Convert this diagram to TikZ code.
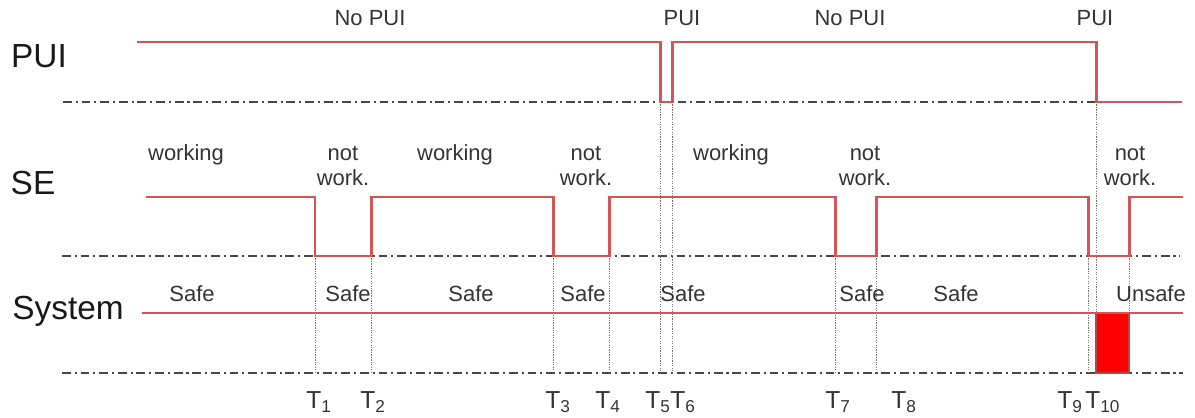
\documentclass[tikz,border=0pt]{standalone}
\usepackage{fontspec}
\setmainfont{Liberation Sans}
\definecolor{sigred}{RGB}{214,84,84}
\definecolor{txtgray}{RGB}{52,52,52}

\begin{document}
\begin{tikzpicture}[
  x=0.02cm, y=-0.02cm,
  sig/.style={draw=sigred, line width=1.7pt, line join=miter},
  base/.style={draw=black!72, line width=1.1pt, dash pattern=on 5pt off 2.2pt on 1.2pt off 2.2pt},
  tline/.style={draw=black!55, line width=0.5pt, dash pattern=on 0.7pt off 0.7pt},
  row/.style={text=black!90, font=\fontsize{19}{22}\selectfont, inner sep=0pt},
  lbl/.style={text=txtgray, font=\fontsize{12.5}{14.2}\selectfont, inner sep=0pt, align=center},
  tlbl/.style={text=txtgray, font=\fontsize{14}{16}\selectfont, inner sep=0pt, anchor=north west}
]
  \useasboundingbox (0,0) rectangle (1195,418);

  % time instants
  \foreach \n/\x in {1/315,2/371,3/553,4/609,5/660,6/672,7/835,8/876,9/1088,10/1096}
    \coordinate (T\n) at (\x,0);
  \coordinate (Tend) at (1129,0);

  % signal levels
  \coordinate (pui)   at (0,42);
  \coordinate (puilo) at (0,102);
  \coordinate (se)    at (0,197);
  \coordinate (selo)  at (0,256);
  \coordinate (sys)   at (0,313);
  \coordinate (syslo) at (0,373);

  % row names
  \node[row] (lpui) at (39,56)  {PUI};
  \node[row] (lse)  at (33,183) {SE};
  \node[row] (lsys) at (68,311) {System};

  % zero lines
  \draw[base] (63,102) -- (T10 |- puilo);
  \draw[base] (62,256) -- (1180,256);
  \draw[base] (62,373) -- (1183,373);

  % instant markers
  \foreach \t in {T1,T2,T3,T4,T7,T8,T9,Tend}
    \draw[tline] (\t |- selo) -- (\t |- syslo);
  \foreach \t in {T5,T6,T10}
    \draw[tline] (\t |- puilo) -- (\t |- syslo);

  % unsafe interval
  \draw[draw=sigred!85!black, fill=red, line width=1.2pt] (T10 |- sys) rectangle (Tend |- syslo);

  % waveforms
  \draw[sig] (137,42) -- (T5 |- pui) -- (T5 |- puilo) -- (T6 |- puilo) -- (T6 |- pui)
    -- (T10 |- pui) -- (T10 |- puilo) -- (1182,102);
  \draw[sig] (146,197) -- (T1 |- se) -- (T1 |- selo) -- (T2 |- selo) -- (T2 |- se)
    -- (T3 |- se) -- (T3 |- selo) -- (T4 |- selo) -- (T4 |- se)
    -- (T7 |- se) -- (T7 |- selo) -- (T8 |- selo) -- (T8 |- se)
    -- (T9 |- se) -- (T9 |- selo) -- (Tend |- selo) -- (Tend |- se) -- (1183,197);
  \draw[sig] (142,313) -- (1183,313);

  % PUI states
  \node[lbl] (p1) at (370,18)  {No PUI};
  \node[lbl] (p2) at (682,18)  {PUI};
  \node[lbl] (p3) at (850,18)  {No PUI};
  \node[lbl] (p4) at (1095,18) {PUI};

  % SE states
  \node[lbl] (s1) at (186,155)  {working};
  \node[lbl] (s2) at (343,166)  {not\\work.};
  \node[lbl] (s3) at (455,155)  {working};
  \node[lbl] (s4) at (586,166)  {not\\work.};
  \node[lbl] (s5) at (731,155)  {working};
  \node[lbl] (s6) at (865,166)  {not\\work.};
  \node[lbl] (s7) at (1130,166) {not\\work.};

  % system states
  \node[lbl] (y1) at (192,294)  {Safe};
  \node[lbl] (y2) at (348,294)  {Safe};
  \node[lbl] (y3) at (471,294)  {Safe};
  \node[lbl] (y4) at (583,294)  {Safe};
  \node[lbl] (y5) at (683,294)  {Safe};
  \node[lbl] (y6) at (862,294)  {Safe};
  \node[lbl] (y7) at (956,294)  {Safe};
  \node[lbl] (y8) at (1151,294) {Unsafe};

  % instant names
  \foreach \n/\x in {1/313,2/367,3/552,4/602,5/652,6/677,7/832,8/898,9/1064,10/1092}
    \node[tlbl] (n\n) at (\x-7,391) {T\textsubscript{\n}};
\end{tikzpicture}
\end{document}
